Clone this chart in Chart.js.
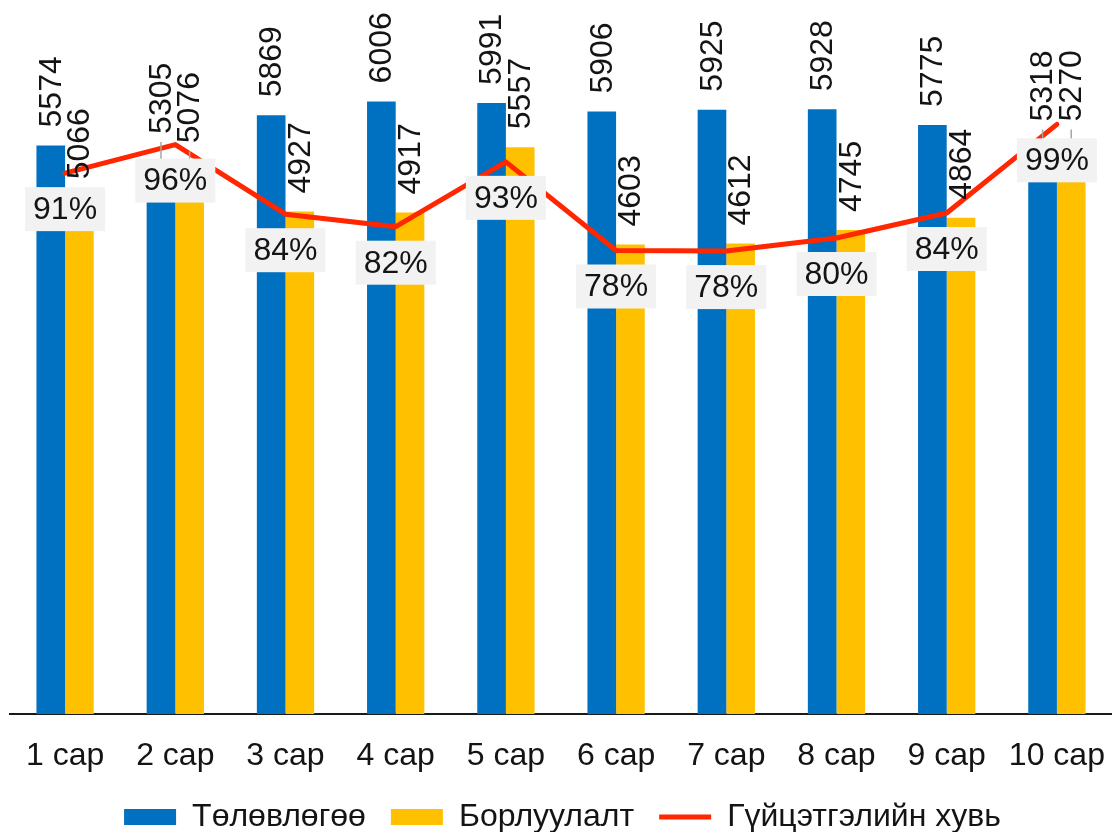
<!DOCTYPE html>
<html>
<head>
<meta charset="utf-8">
<script src="https://cdn.jsdelivr.net/npm/chart.js@4/dist/chart.umd.min.js"></script>
<style>
  body { margin: 0; background: #fff; }
</style>
</head>
<body>
<canvas id="canvas_chart" width="1112" height="832"></canvas>
<script>
const months = ["1 сар", "2 сар", "3 сар", "4 сар", "5 сар", "6 сар", "7 сар", "8 сар", "9 сар", "10 сар"];
const plan = [5574, 5305, 5869, 6006, 5991, 5906, 5925, 5928, 5775, 5318];
const sales = [5066, 5076, 4927, 4917, 5557, 4603, 4612, 4745, 4864, 5270];
const rate = [0.909, 0.957, 0.840, 0.819, 0.928, 0.779, 0.778, 0.800, 0.842, 0.991];

// some labels were pulled up by hand in the original (they have leader lines)
const labelLift = { "0-1": 21, "1-1": 35, "0-9": 32, "1-9": 37 };

const fontName = '"Liberation Sans", Arial, sans-serif';
const textColor = '#141414';

Chart.defaults.font.family = fontName;
Chart.defaults.color = textColor;

const labelPlugin = {
    id: 'labelPlugin',
    afterDatasetsDraw(chart) {
        const ctx = chart.ctx;
        ctx.save();
        ctx.font = '32px ' + fontName;

        // bar values, vertical
        [0, 1].forEach(function (d) {
            chart.getDatasetMeta(d).data.forEach(function (bar, i) {
                const lift = labelLift[d + '-' + i] || 0;
                const yText = bar.y - 18 - lift;
                if (lift) {
                    ctx.strokeStyle = '#A6A6A6';
                    ctx.lineWidth = 1.5;
                    ctx.beginPath();
                    ctx.moveTo(bar.x, yText + 8);
                    ctx.lineTo(bar.x, bar.y - 10);
                    ctx.stroke();
                }
                ctx.save();
                ctx.translate(bar.x + 1, yText);
                ctx.rotate(-Math.PI / 2);
                ctx.textAlign = 'left';
                ctx.textBaseline = 'middle';
                ctx.fillStyle = textColor;
                ctx.fillText(String(chart.data.datasets[d].data[i]), 0, 0);
                ctx.restore();
            });
        });

        // percent labels in grey boxes
        chart.getDatasetMeta(2).data.forEach(function (pt, i) {
            const txt = Math.round(rate[i] * 100) + '%';
            const w = ctx.measureText(txt).width + 16;
            const h = 44;
            const cy = pt.y + 36;
            ctx.fillStyle = '#F2F2F2';
            ctx.fillRect(pt.x - w / 2, cy - h / 2, w, h);
            ctx.fillStyle = textColor;
            ctx.textAlign = 'center';
            ctx.textBaseline = 'middle';
            ctx.fillText(txt, pt.x, cy + 1);
        });
        ctx.restore();
    }
};

const getCanvas = document.getElementById('canvas_chart');
let configChart = {
    data: {
        labels: months,
        datasets: [
            {
                type: 'bar',
                label: 'Төлөвлөгөө',
                data: plan,
                backgroundColor: '#0070C0',
                yAxisID: 'y',
                order: 2
            },
            {
                type: 'bar',
                label: 'Борлуулалт',
                data: sales,
                backgroundColor: '#FFC000',
                yAxisID: 'y',
                order: 2
            },
            {
                type: 'line',
                label: 'Гүйцэтгэлийн хувь',
                data: rate,
                borderColor: '#FF2600',
                backgroundColor: '#FF2600',
                borderWidth: 5,
                borderCapStyle: 'round',
                borderJoinStyle: 'round',
                pointRadius: 0,
                pointStyle: 'line',
                yAxisID: 'y1',
                order: 1
            }
        ]
    },
    options: {
        responsive: false,
        animation: false,
        layout: { padding: { left: 10, right: -3, top: 0, bottom: -11 } },
        datasets: {
            bar: { categoryPercentage: 0.52, barPercentage: 1.0 }
        },
        scales: {
            x: {
                grid: { display: false, drawTicks: false },
                border: { display: true, color: '#1a1a1a', width: 2 },
                ticks: { font: { size: 32 }, color: textColor, padding: 23, maxRotation: 0 },
                afterFit(scale) {
                    scale.height = 62;
                    scale.paddingLeft = 0;
                    scale.paddingRight = 0;
                }
            },
            y: { display: false, min: 0, max: 7000 },
            y1: { display: false, min: 0, max: 1.2 }
        },
        plugins: {
            tooltip: { enabled: false },
            legend: {
                position: 'bottom',
                labels: {
                    usePointStyle: true,
                    pointStyleWidth: 52,
                    boxHeight: 16,
                    padding: 25,
                    font: { size: 32 },
                    color: textColor,
                    sort: function (a, b) { return a.datasetIndex - b.datasetIndex; },
                    generateLabels(chart) {
                        const items = Chart.defaults.plugins.legend.labels.generateLabels(chart);
                        items.forEach(function (it) {
                            it.pointStyle = it.datasetIndex === 2 ? 'line' : 'rect';
                        });
                        return items;
                    }
                }
            }
        }
    },
    plugins: [labelPlugin]
};
const canvas_chart = new Chart(getCanvas, configChart);
</script>
</body>
</html>
